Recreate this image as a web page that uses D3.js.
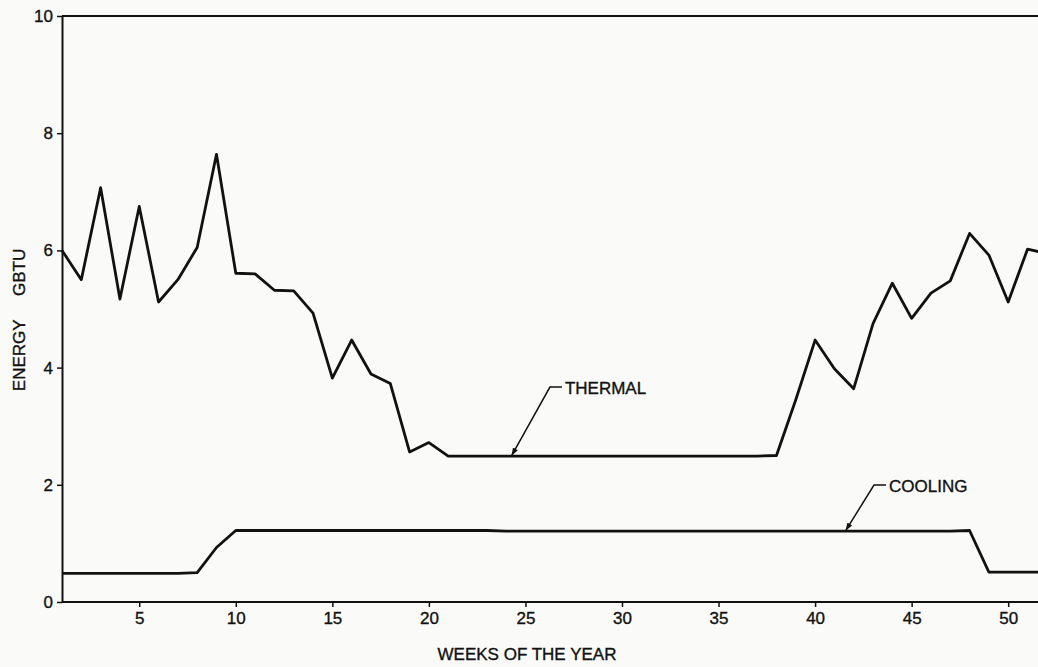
<!DOCTYPE html>
<html>
<head>
<meta charset="utf-8">
<script src="https://cdn.jsdelivr.net/npm/d3@7"></script>
<style>
  html, body { margin: 0; padding: 0; background: #fafaf8; }
  svg { display: block; }
  text { font-family: "Liberation Sans", Arial, sans-serif; fill: #111; stroke: #111; stroke-width: 0.35px; }
</style>
</head>
<body>
<svg id="chart"></svg>
<script>
const W = 1038, H = 667;
const margin = { top: 16, left: 62 };

// week numbers
const weeks = d3.range(1, 53);

// thermal energy, GBTU per week
const thermal = [
  6.00, 5.50, 7.07, 5.17, 6.75, 5.12, 5.50, 6.05, 7.64, 5.61,
  5.60, 5.32, 5.31, 4.93, 3.82, 4.47, 3.89, 3.73, 2.56, 2.72,
  2.49, 2.49, 2.49, 2.49, 2.49, 2.49, 2.49, 2.49, 2.49, 2.49,
  2.49, 2.49, 2.49, 2.49, 2.49, 2.49, 2.49, 2.50, 3.45, 4.47,
  3.98, 3.64, 4.75, 5.44, 4.84, 5.27, 5.48, 6.29, 5.92, 5.12,
  6.02, 5.95
];

// cooling energy, GBTU per week
const cooling = [
  0.49, 0.49, 0.49, 0.49, 0.49, 0.49, 0.49, 0.50, 0.93, 1.22,
  1.22, 1.22, 1.22, 1.22, 1.22, 1.22, 1.22, 1.22, 1.22, 1.22,
  1.22, 1.22, 1.22, 1.21, 1.21, 1.21, 1.21, 1.21, 1.21, 1.21,
  1.21, 1.21, 1.21, 1.21, 1.21, 1.21, 1.21, 1.21, 1.21, 1.21,
  1.21, 1.21, 1.21, 1.21, 1.21, 1.21, 1.21, 1.22, 0.51, 0.51,
  0.51, 0.51
];

const xTicks = [5, 10, 15, 20, 25, 30, 35, 40, 45, 50];
const yTicks = [0, 2, 4, 6, 8, 10];

// callouts: label, week/value the arrow points at
const notes = [
  { label: "THERMAL", week: 24.3, value: 2.49, dx: 38, dy: -69 },
  { label: "COOLING", week: 41.6, value: 1.21, dx: 28, dy: -46 }
];

const svg = d3.select("#chart")
  .attr("width", W)
  .attr("height", H)
  .attr("viewBox", `0 0 ${W} ${H}`);

const x = d3.scaleLinear()
  .domain([1, 52])
  .range([margin.left, margin.left + 51 * 19.31]);

const y = d3.scaleLinear()
  .domain([0, 10])
  .range([602, margin.top]);

svg.append("defs").append("marker")
  .attr("id", "arrow")
  .attr("viewBox", "0 0 10 10")
  .attr("refX", 9)
  .attr("refY", 5)
  .attr("markerWidth", 8)
  .attr("markerHeight", 8)
  .attr("markerUnits", "userSpaceOnUse")
  .attr("orient", "auto")
  .append("path")
  .attr("d", "M0,1.5 L10,5 L0,8.5 Z")
  .attr("fill", "#111");

// top frame line
svg.append("line")
  .attr("x1", x(1)).attr("x2", W)
  .attr("y1", y(10)).attr("y2", y(10))
  .attr("stroke", "#111")
  .attr("stroke-width", 2);

// Axis X
const xAxis = svg.append("g")
  .attr("transform", `translate(0,${y(0)})`)
  .call(d3.axisBottom(x).tickValues(xTicks).tickSize(5).tickPadding(5).tickSizeOuter(0));

// Axis Y
const yAxis = svg.append("g")
  .attr("transform", `translate(${x(1)},0)`)
  .call(d3.axisLeft(y).tickValues(yTicks).tickSize(5).tickPadding(4).tickSizeOuter(0));

[xAxis, yAxis].forEach(a => {
  a.select(".domain").attr("stroke", "#111").attr("stroke-width", 2);
  a.selectAll(".tick line").attr("stroke", "#111").attr("stroke-width", 1.5);
  a.selectAll(".tick text")
    .attr("fill", "#111")
    .style("font-size", "17px");
});
xAxis.select(".domain").attr("d", `M${x(1)},0H${W}`);

// Label X
svg.append("text")
  .attr("x", 527)
  .attr("y", 660)
  .attr("text-anchor", "middle")
  .style("font-size", "17px")
  .text("WEEKS OF THE YEAR");

// Label Y
svg.append("text")
  .attr("transform", "rotate(-90)")
  .attr("x", -320)
  .attr("y", 25)
  .attr("text-anchor", "middle")
  .style("font-size", "17px")
  .style("white-space", "pre")
  .attr("xml:space", "preserve")
  .text("ENERGY     GBTU");

const line = d3.line()
  .x((d, i) => x(weeks[i]))
  .y(d => y(d));

[thermal, cooling].forEach(series => {
  svg.append("path")
    .datum(series)
    .attr("d", line)
    .attr("fill", "none")
    .attr("stroke", "#111")
    .attr("stroke-width", 2.8)
    .attr("stroke-linejoin", "round");
});

// callouts
notes.forEach(n => {
  const tx = x(n.week), ty = y(n.value);
  const kx = tx + n.dx, ky = ty + n.dy;
  svg.append("path")
    .attr("d", `M${kx + 12},${ky} L${kx},${ky} L${tx},${ty - 1}`)
    .attr("fill", "none")
    .attr("stroke", "#111")
    .attr("stroke-width", 1.5)
    .attr("marker-end", "url(#arrow)");
  svg.append("text")
    .attr("x", kx + 15)
    .attr("y", ky + 7)
    .style("font-size", "17px")
    .text(n.label);
});
</script>
</body>
</html>
